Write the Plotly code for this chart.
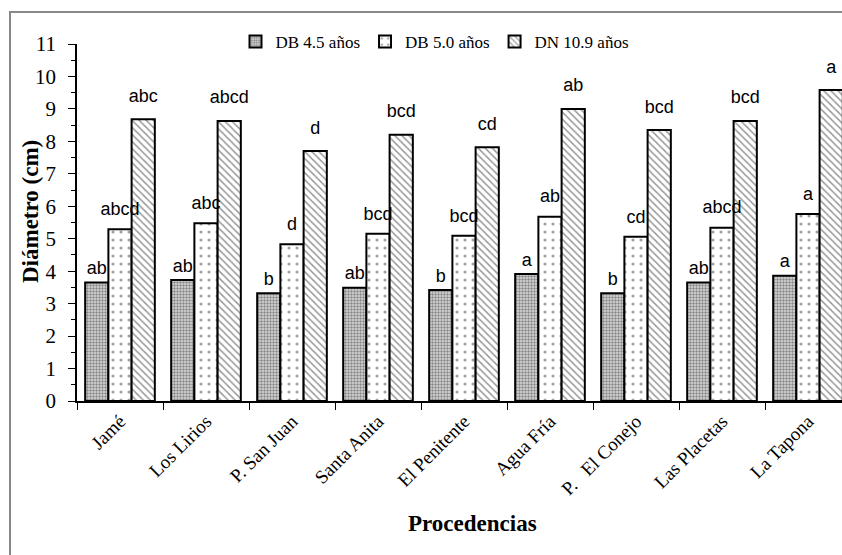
import plotly.graph_objects as go

categories = ["Jamé", "Los Lirios", "P. San Juan", "Santa Anita", "El Penitente",
              "Agua Fría", "P.\u00a0\u00a0 El Conejo", "Las Placetas", "La Tapona"]
series_names = ["DB 4.5 años", "DB 5.0 años", "DN 10.9 años"]
db45 = [3.65, 3.73, 3.32, 3.49, 3.42, 3.91, 3.32, 3.65, 3.86]
db50 = [5.29, 5.48, 4.83, 5.15, 5.09, 5.68, 5.06, 5.34, 5.76]
dn109 = [8.68, 8.63, 7.70, 8.20, 7.82, 9.00, 8.35, 8.63, 9.58]
lab45 = ["ab", "ab", "b", "ab", "b", "a", "b", "ab", "a"]
lab50 = ["abcd", "abc", "d", "bcd", "bcd", "ab", "cd", "abcd", "a"]
lab109 = ["abc", "abcd", "d", "bcd", "cd", "ab", "bcd", "bcd", "a"]
y_ticks = list(range(0, 12))

W, H = 842, 555
L, R, T, B = 77, 0, 44, 154
pw, ph = W - L - R, H - T - B

def px_x(x):
    return (x - L) / pw

def px_y(y):
    return (H - B - y) / ph

patterns = [
    dict(shape=".", size=3, solidity=0.5, fgcolor="#333333", bgcolor="#dcdcdc"),
    dict(shape=".", size=8, solidity=0.12, fgcolor="#444444", bgcolor="white"),
    dict(shape="\\", size=5, solidity=0.3, fgcolor="#333333", bgcolor="white"),
]
label_lift = [0.12, 0.3, 0.4]  # extra space between bar top and its letters (data units)

fig = go.Figure()
all_vals = [db45, db50, dn109]
all_labs = [lab45, lab50, lab109]
for i, (name, vals, pat) in enumerate(zip(series_names, all_vals, patterns)):
    fig.add_trace(go.Bar(
        x=categories, y=vals, name=name, offsetgroup=str(i),
        marker=dict(color="white", line=dict(color="black", width=2), pattern=pat),
    ))
for i, (vals, labs) in enumerate(zip(all_vals, all_labs)):
    fig.add_trace(go.Scatter(
        x=categories, y=[v + label_lift[i] for v in vals], text=labs, mode="text",
        textposition="top center",
        offsetgroup=str(i), showlegend=False, cliponaxis=False, hoverinfo="skip",
        textfont=dict(family="Liberation Sans", size=18, color="black"),
    ))

fig.update_layout(
    width=W, height=H,
    margin=dict(l=L, r=R, t=T, b=B),
    paper_bgcolor="white", plot_bgcolor="white",
    barmode="group", bargap=0.19, bargroupgap=0,
    scattermode="group", scattergap=0.19,
    font=dict(family="Liberation Serif", color="black"),
    legend=dict(orientation="h", x=px_x(435), y=px_y(42), xanchor="center", yanchor="middle",
                font=dict(family="Liberation Serif", size=17), bgcolor="rgba(0,0,0,0)",
                itemwidth=30, tracegroupgap=0),
    xaxis=dict(type="category", range=[-0.5, 8.5 - (851 - 842) / 86],
               showline=True, linecolor="black", linewidth=1.5,
               ticks="outside", tickson="boundaries", ticklen=7, tickcolor="black",
               tickangle=-45, tickfont=dict(family="Liberation Serif", size=19)),
    yaxis=dict(range=[0, 11], tickvals=y_ticks, showgrid=False, zeroline=False,
               showline=True, linecolor="black", linewidth=1.5,
               ticks="outside", ticklen=7, tickcolor="black", ticklabelstandoff=8,
               minor=dict(ticks="outside", ticklen=4, dtick=0.5, tickcolor="black", showgrid=False),
               tickfont=dict(family="Liberation Serif", size=21)),
    annotations=[
        dict(text="<b>Diámetro (cm)</b>", x=px_x(30), y=px_y(212), xref="paper", yref="paper",
             textangle=-90, showarrow=False, font=dict(family="Liberation Serif", size=23),
             xanchor="center", yanchor="middle"),
        dict(text="<b>Procedencias</b>", x=px_x(472), y=px_y(523), xref="paper", yref="paper",
             showarrow=False, font=dict(family="Liberation Serif", size=23),
             xanchor="center", yanchor="middle"),
    ],
    shapes=[
        dict(type="rect", xref="paper", yref="paper",
             x0=px_x(10), x1=px_x(860), y0=px_y(575), y1=px_y(12),
             line=dict(color="#888888", width=2), fillcolor="rgba(0,0,0,0)", layer="below"),
    ],
)

fig.write_html("out.html", config={"displayModeBar": False},
               post_script="document.body.style.margin='0';")
